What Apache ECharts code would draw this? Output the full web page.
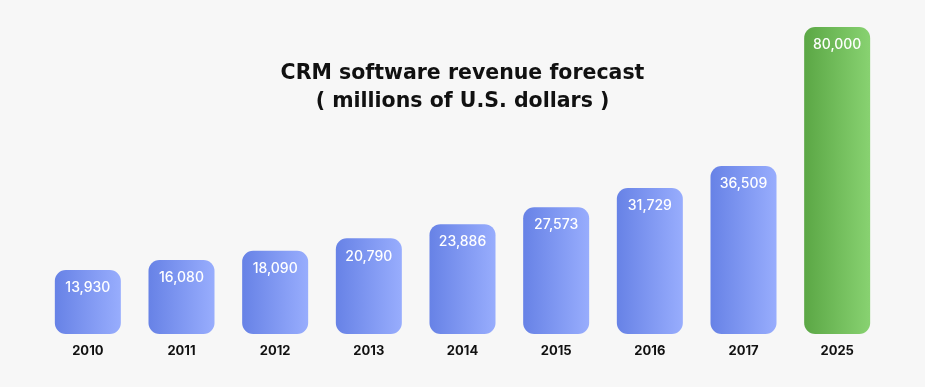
<!DOCTYPE html>
<html>
<head>
<meta charset="utf-8">
<script src="https://cdn.jsdelivr.net/npm/echarts@6/dist/echarts.min.js"></script>
<style>
html,body{margin:0;padding:0;background:#f7f7f7;}
#chart{width:925px;height:387px;}
</style>
</head>
<body>
<div id="chart"></div>
<script>
const categories = ['2010','2011','2012','2013','2014','2015','2016','2017','2025'];
const revenue = [13930, 16080, 18090, 20790, 23886, 27573, 31729, 36509, 80000];
const forecastYears = ['2025'];
const titleLines = ['CRM software revenue forecast', '( millions of U.S. dollars )'];

const FONT = 'Inter, "Open Sans", sans-serif';
const blueGrad = new echarts.graphic.LinearGradient(0, 0, 1, 0, [
  {offset: 0, color: '#6782e6'}, {offset: 1, color: '#98adfd'}
]);
const greenGrad = new echarts.graphic.LinearGradient(0, 0, 1, 0, [
  {offset: 0, color: '#5ba745'}, {offset: 1, color: '#88d271'}
]);

const chart = echarts.init(document.getElementById('chart'));
chart.setOption({
  backgroundColor: '#f7f7f7',
  animation: false,
  title: {
    text: titleLines.join('\n'),
    left: 'center',
    top: 55,
    textStyle: {fontFamily: '"DejaVu Sans", sans-serif', fontSize: 20.5, fontWeight: 'bold', color: '#111', lineHeight: 28}
  },
  grid: {left: 41, right: 41, top: 27, bottom: 53, outerBoundsMode: 'none', containLabel: false},
  xAxis: {
    type: 'category',
    data: categories,
    axisLine: {show: false},
    axisTick: {show: false},
    axisLabel: {margin: 11, fontFamily: FONT, fontSize: 13, fontWeight: 'bold', color: '#111'}
  },
  yAxis: {
    type: 'value',
    min: 0,
    max: 80000,
    show: false,
    splitLine: {show: false},
    breaks: [{start: 45000, end: 58260, gap: 0}],
    breakArea: {show: false}
  },
  series: [{
    type: 'bar',
    barWidth: 66,
    data: revenue.map((v, i) => ({
      value: v,
      itemStyle: {
        color: forecastYears.includes(categories[i]) ? greenGrad : blueGrad,
        borderRadius: 11
      }
    })),
    label: {
      show: true,
      position: 'insideTop',
      distance: 11,
      color: '#fff',
      fontFamily: FONT,
      fontSize: 14,
      fontWeight: 500,
      formatter: p => p.value.toLocaleString('en-US')
    }
  }]
});
</script>
</body>
</html>
